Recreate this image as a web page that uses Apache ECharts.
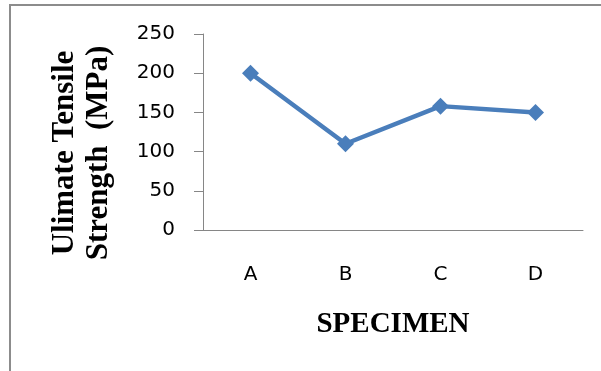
<!DOCTYPE html>
<html>
<head>
<meta charset="utf-8">
<script src="https://cdn.jsdelivr.net/npm/echarts@6/dist/echarts.min.js"></script>
<style>
  html, body { margin: 0; padding: 0; background: #fff; }
  #chart { width: 601px; height: 371px; }
</style>
</head>
<body>
<div id="chart"></div>
<script>
// Specimens tested and their ultimate tensile strength (MPa)
const specimens = ['A', 'B', 'C', 'D'];
const tensileStrength = [200, 110, 158, 150];
const yTicks = { min: 0, max: 250, step: 50 };

const chart = echarts.init(document.getElementById('chart'), null, { renderer: 'canvas' });

const axisGray = '#868686';
const lineBlue = '#4a7ebb';

chart.setOption({
  animation: false,
  backgroundColor: '#ffffff',
  grid: { left: 203, right: 18, top: 34, bottom: 141, containLabel: false },
  xAxis: {
    type: 'category',
    data: specimens,
    boundaryGap: true,
    axisLine: { lineStyle: { color: axisGray, width: 1 } },
    axisTick: { show: false },
    axisLabel: { margin: 35, color: '#000', fontFamily: 'DejaVu Sans', fontSize: 20 },
    splitLine: { show: false },
    name: 'SPECIMEN',
    nameLocation: 'middle',
    nameGap: 80,
    nameTextStyle: { color: '#000', fontFamily: 'Liberation Serif', fontWeight: 'bold', fontSize: 29 }
  },
  yAxis: {
    type: 'value',
    min: yTicks.min,
    max: yTicks.max,
    interval: yTicks.step,
    axisLine: { show: true, lineStyle: { color: axisGray, width: 1 } },
    axisTick: { show: true, inside: false, length: 9, lineStyle: { color: axisGray } },
    axisLabel: { margin: 28, color: '#000', fontFamily: 'DejaVu Sans', fontSize: 20 },
    splitLine: { show: false }
  },
  graphic: [
    {
      type: 'rect',
      shape: { x: 10, y: 5, width: 640, height: 420 },
      style: { fill: 'none', stroke: '#8c8c8c', lineWidth: 2 },
      silent: true
    },
    {
      type: 'text',
      x: 82,
      y: 153,
      rotation: Math.PI / 2,
      style: {
        text: 'Ulimate Tensile\nStrength  (MPa)',
        font: 'bold 31px "Liberation Serif"',
        lineHeight: 34,
        fill: '#000',
        textAlign: 'center',
        textVerticalAlign: 'middle'
      }
    }
  ],
  series: [{
    type: 'line',
    data: tensileStrength,
    symbol: 'diamond',
    symbolSize: 17,
    lineStyle: { color: lineBlue, width: 4.5 },
    itemStyle: { color: lineBlue },
    label: { show: false }
  }]
});
</script>
</body>
</html>
